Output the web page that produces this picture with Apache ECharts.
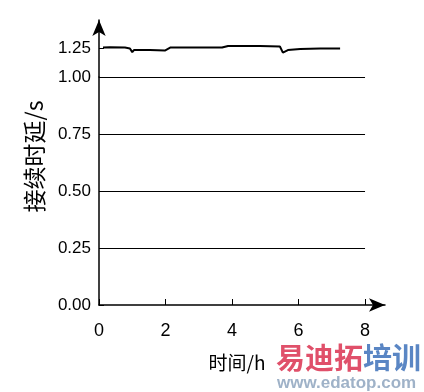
<!DOCTYPE html>
<html><head><meta charset="utf-8">
<script src="https://cdn.jsdelivr.net/npm/echarts@6/dist/echarts.min.js"></script>
<style>html,body{margin:0;padding:0;background:#fff}#c{width:424px;height:392px}</style>
</head><body><div id="c"></div>
<script>
const hours = [0.12,0.33,0.78,0.93,1.0,1.05,1.53,1.98,2.14,3.04,3.70,3.88,4.84,5.44,5.53,5.68,6.05,6.65,7.25];
const delays = [1.252,1.254,1.252,1.248,1.232,1.241,1.241,1.239,1.252,1.252,1.252,1.259,1.259,1.257,1.230,1.241,1.246,1.248,1.248];
const yTicks = [0,0.25,0.5,0.75,1.0,1.25];
const yTickLabels = ['0.00','0.25','0.50','0.75','1.00','1.25'];
const gridVals = [0.25,0.5,0.75,1.0];
const xTicks = [0,2,4,6,8];

const chart = echarts.init(document.getElementById('c'));
chart.setOption({
  animation:false,
  backgroundColor:'#fff',
  title:[
    {text:'易迪拓', left:271, top:338, textStyle:{color:'#e0506a',fontSize:29,fontWeight:'bold',fontFamily:'Noto Sans CJK SC'}},
    {text:'培训', left:358, top:338, textStyle:{color:'#5a86c4',fontSize:29,fontWeight:'bold',fontFamily:'Noto Sans CJK SC'}},
    {text:'www.edatop.com', left:272, top:370, textStyle:{color:'#9fb2c8',fontSize:17,fontWeight:'bold',fontFamily:'Liberation Sans'}}
  ],
  grid:{left:99, top:20, right:424-385, bottom:392-305, containLabel:false},
  xAxis:{type:'value', min:0, max:8.6,
    name:'时间/h', nameLocation:'middle', nameGap:48,
    nameTextStyle:{color:'#000',fontSize:19,fontFamily:'Noto Sans CJK SC',padding:[0,10,0,0]},
    axisLine:{show:true,lineStyle:{color:'#000',width:1.5},symbol:['none','arrow'],symbolSize:[10,16]},
    axisTick:{show:true,inside:true,length:6,lineStyle:{color:'#000'},customValues:xTicks},
    axisLabel:{color:'#000',fontSize:18,fontFamily:'Liberation Sans',margin:17,customValues:xTicks},
    splitLine:{show:false}
  },
  yAxis:{type:'value', min:0, max:1.373,
    breaks:[{start:1.0,end:1.123,gap:0}],
    breakArea:{show:false},
    name:'接续时延/s', nameLocation:'middle', nameGap:53, nameRotate:90,
    nameTextStyle:{color:'#000',fontSize:23,fontFamily:'Noto Sans CJK SC',padding:[0,0,0,12]},
    axisLine:{show:true,lineStyle:{color:'#000',width:1.5},symbol:['none','arrow'],symbolSize:[10,16]},
    axisTick:{show:true,inside:true,length:5,lineStyle:{color:'#000'},customValues:yTicks},
    axisLabel:{color:'#000',fontSize:17,fontFamily:'Liberation Sans',margin:8,customValues:yTicks,
      formatter:function(v){const i=yTicks.findIndex(t=>Math.abs(t-v)<1e-6);return i>=0?yTickLabels[i]:'';}},
    splitLine:{show:false}
  },
  series:[{
    type:'line', data:hours.map((h,i)=>[h,delays[i]]), symbol:'none',
    lineStyle:{color:'#000',width:2}, silent:true,
    markLine:{silent:true, symbol:['none','none'], label:{show:false},
      lineStyle:{color:'#000',width:1,type:'solid'},
      data:gridVals.map(v=>[{coord:[0,v]},{coord:[8,v]}])}
  }]
});
</script></body></html>
